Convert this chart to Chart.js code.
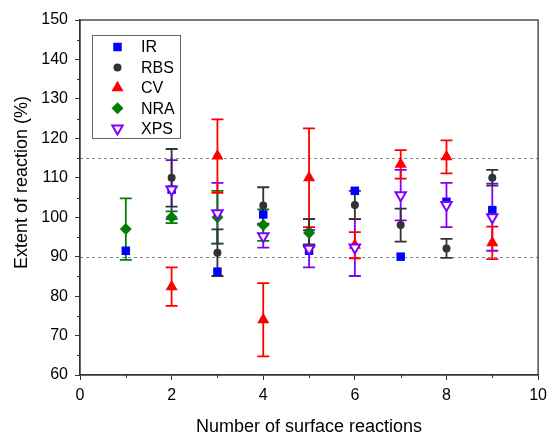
<!DOCTYPE html>
<html><head><meta charset="utf-8">
<script src="https://cdn.jsdelivr.net/npm/chart.js@4/dist/chart.umd.min.js"></script>
<style>html,body{margin:0;padding:0;background:#fff}</style>
</head><body>
<canvas id="c" width="553" height="438"></canvas>
<script>
// ---- data ----
const reactions = [1, 2, 3, 4, 5, 6, 7, 8, 9];
const irValues  = [91.5, 107, 86.2, 100.7, 91.5, 106.7, 90.0, 103.9, 101.8];
const rbsValues = [null, 110, 91.0, 103, 96.3, 103.1, 98.0, 92.1, 110];
const rbsErrors = [0, 7.3, 5.9, 4.6, 3.2, 3.6, 4.2, 2.4, 2.0];
const cvValues  = [null, 82.4, 115.5, 74.0, 110, 92.9, 113.4, 115.3, 93.5];
const cvErrors  = [0, 4.9, 9.3, 9.3, 12.5, 3.3, 3.6, 4.2, 4.1];
const nraValues = [97, 100, 100, 98, 96, null, null, null, null];
const nraErrors = [7.8, 1.5, 6.7, 4.0, 3.5, 0, 0, 0, 0];
const xpsValues = [null, 107, 101, 95.2, 92.0, 92.3, 105.6, 103.1, 100];
const xpsErrors = [0, 7.5, 7.7, 2.9, 4.7, 7.2, 6.4, 5.6, 8.5];
const refLines  = [90, 115];
const xTicks = [0, 2, 4, 6, 8, 10];
const yTicks = [60, 70, 80, 90, 100, 110, 120, 130, 140, 150];
const yTitle = 'Extent of reaction (%)';

const FONT = '"Liberation Sans", Arial, sans-serif';

function pts(vals) {
  const out = [];
  vals.forEach((v, i) => { if (v != null) out.push({x: reactions[i], y: v}); });
  return out;
}
function errs(vals, e) {
  const out = [];
  vals.forEach((v, i) => { if (v != null) out.push(e[i]); });
  return out;
}

const datasets = [
  {label: 'IR', data: pts(irValues), errors: null, pointStyle: 'rect', pointRadius: 6,
   backgroundColor: '#0000ff', borderColor: '#0000ff', borderWidth: 0, order: 5},
  {label: 'RBS', data: pts(rbsValues), errors: errs(rbsValues, rbsErrors), pointStyle: 'circle', pointRadius: 4,
   backgroundColor: '#333333', borderColor: '#333333', borderWidth: 0, order: 4},
  {label: 'CV', data: pts(cvValues), errors: errs(cvValues, cvErrors), pointStyle: 'triangle', pointRadius: 7,
   backgroundColor: '#ff0000', borderColor: '#ff0000', borderWidth: 0, order: 3},
  {label: 'NRA', data: pts(nraValues), errors: errs(nraValues, nraErrors), pointStyle: 'rectRot', pointRadius: 6,
   backgroundColor: '#008000', borderColor: '#008000', borderWidth: 0, order: 2},
  {label: 'XPS', data: pts(xpsValues), errors: errs(xpsValues, xpsErrors), pointStyle: 'triangle', pointRotation: 180, pointRadius: 6,
   backgroundColor: '#ffffff', borderColor: '#8000ff', borderWidth: 2, order: 1}
];

const refPlugin = {
  id: 'refLines',
  beforeDatasetsDraw(chart) {
    const {ctx, chartArea: a, scales: {y}} = chart;
    ctx.save();
    ctx.strokeStyle = '#888';
    ctx.lineWidth = 1;
    ctx.setLineDash([3, 3]);
    refLines.forEach(v => {
      const py = Math.round(y.getPixelForValue(v)) + 0.5;
      ctx.beginPath(); ctx.moveTo(a.left, py); ctx.lineTo(a.right, py); ctx.stroke();
    });
    ctx.restore();
  }
};

const errPlugin = {
  id: 'errBars',
  beforeDatasetsDraw(chart) {
    const {ctx, scales: {x, y}} = chart;
    chart.data.datasets.slice().reverse().forEach(ds => {
      if (!ds.errors) return;
      ctx.save();
      ctx.strokeStyle = ds.borderColor;
      ctx.lineWidth = 1.8;
      ds.data.forEach((p, j) => {
        const e = ds.errors[j];
        if (!e) return;
        const px = x.getPixelForValue(p.x);
        const t = y.getPixelForValue(p.y + e), b = y.getPixelForValue(p.y - e);
        ctx.beginPath();
        ctx.moveTo(px, t); ctx.lineTo(px, b);
        ctx.moveTo(px - 6, t); ctx.lineTo(px + 6, t);
        ctx.moveTo(px - 6, b); ctx.lineTo(px + 6, b);
        ctx.stroke();
      });
      ctx.restore();
    });
  }
};

const framePlugin = {
  id: 'frame',
  afterDraw(chart) {
    const {ctx, chartArea: a, scales: {x, y}} = chart;
    ctx.save();
    ctx.strokeStyle = '#333';
    ctx.lineWidth = 1.3;
    ctx.strokeRect(a.left, a.top, a.right - a.left, a.bottom - a.top);
    // minor ticks
    ctx.lineWidth = 1;
    ctx.beginPath();
    for (let v = 65; v < 150; v += 10) {
      const py = Math.round(y.getPixelForValue(v)) + 0.5;
      ctx.moveTo(a.left, py); ctx.lineTo(a.left - 3, py);
    }
    for (let v = 1; v < 10; v += 2) {
      const px = Math.round(x.getPixelForValue(v)) + 0.5;
      ctx.moveTo(px, a.bottom); ctx.lineTo(px, a.bottom + 3);
    }
    ctx.stroke();
    // y-axis title (placed slightly above centre as in the reference)
    ctx.save();
    ctx.translate(22, (a.top + a.bottom) / 2 - 15);
    ctx.rotate(-Math.PI / 2);
    ctx.font = '18px ' + FONT;
    ctx.fillStyle = '#000';
    ctx.textAlign = 'center';
    ctx.textBaseline = 'middle';
    ctx.fillText(yTitle, 0, 0);
    ctx.restore();
    // legend
    const lx = a.left + 12, ly = a.top + 15, lw = 88, lh = 103;
    ctx.strokeStyle = '#666';
    ctx.lineWidth = 1;
    ctx.strokeRect(lx + 0.5, ly + 0.5, lw, lh);
    ctx.font = '16px ' + FONT;
    ctx.textBaseline = 'middle';
    ctx.textAlign = 'left';
    datasets.forEach((ds, i) => {
      const cy = ly + 12 + i * 20.4;
      const cx = lx + 25.5;
      ctx.fillStyle = ds.backgroundColor;
      ctx.strokeStyle = ds.borderColor;
      ctx.lineWidth = ds.borderWidth;
      Chart.helpers.drawPoint(ctx, {pointStyle: ds.pointStyle, rotation: ds.pointRotation || 0,
        radius: ds.pointRadius, borderWidth: ds.borderWidth}, cx, cy);
      ctx.fillStyle = '#000';
      ctx.fillText(ds.label, lx + 49, cy + 1);
    });
    ctx.restore();
  }
};

new Chart(document.getElementById('c'), {
  type: 'scatter',
  data: {datasets},
  options: {
    responsive: false,
    animation: false,
    devicePixelRatio: 1,
    layout: {padding: {left: 0, top: 20, right: 12, bottom: 0}},
    plugins: {legend: {display: false}, tooltip: {enabled: false}},
    scales: {
      x: {
        type: 'linear', min: 0, max: 10,
        afterFit(s) { s.height = 63; },
        afterBuildTicks(s) { s.ticks = xTicks.map(v => ({value: v})); },
        grid: {display: true, drawOnChartArea: false, drawTicks: true, tickLength: 5, color: '#333'},
        border: {display: true, color: '#333', width: 1.3},
        ticks: {color: '#000', font: {family: FONT, size: 16}, padding: 6, maxRotation: 0},
        title: {display: true, text: 'Number of surface reactions', color: '#000',
                font: {family: FONT, size: 18}, padding: {top: 0, bottom: 0}}
      },
      y: {
        type: 'linear', min: 60, max: 150,
        afterFit(s) { s.width = 80; },
        afterBuildTicks(s) { s.ticks = yTicks.map(v => ({value: v})); },
        grid: {display: true, drawOnChartArea: false, drawTicks: true, tickLength: 5, color: '#333'},
        border: {display: true, color: '#333', width: 1.3},
        ticks: {color: '#000', font: {family: FONT, size: 16}, padding: 7},
        title: {display: false}
      }
    }
  },
  plugins: [refPlugin, errPlugin, framePlugin]
});
</script>
</body></html>
